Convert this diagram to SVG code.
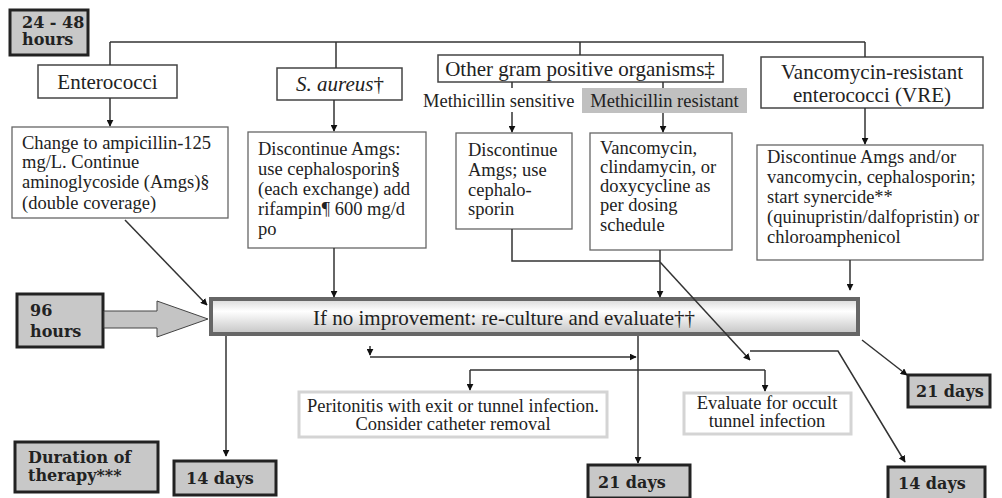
<svg xmlns="http://www.w3.org/2000/svg" width="1002" height="498" viewBox="0 0 1002 498">
<style>
.t{font-family:"Liberation Serif","Times New Roman",serif;font-size:18.5px;fill:#222}
.h{font-family:"Liberation Serif","Times New Roman",serif;font-size:21px;fill:#222}
.b{font-family:"DejaVu Serif",serif;font-weight:bold;font-size:16px;fill:#222}
.box{fill:#fff;stroke:#444;stroke-width:1.5}
.cbox{fill:#fff;stroke:#666;stroke-width:1.3}
.gbox{fill:#c8c8c8;stroke:#222;stroke-width:3}
.lbox{fill:#fff;stroke:#d4d4d4;stroke-width:3}
.c{fill:none;stroke:#333;stroke-width:1.5}
</style>
<defs>
<marker id="ah" viewBox="0 0 10 10" refX="9" refY="5" markerWidth="7" markerHeight="7" orient="auto" markerUnits="userSpaceOnUse">
<path d="M0,0 L10,5 L0,10 z" fill="#111"/>
</marker>
<linearGradient id="bar" x1="0" y1="0" x2="0" y2="1">
<stop offset="0" stop-color="#d8d8d8"/>
<stop offset="0.35" stop-color="#ffffff"/>
<stop offset="1" stop-color="#c4c4c4"/>
</linearGradient>
</defs>
<rect width="1002" height="498" fill="#fff"/>

<g id="n-24-48">
<rect class="gbox" x="10" y="10" width="78" height="45"/>
<text class="b" font-size="12" x="22" y="28">24 - 48</text>
<text class="b" font-size="12" x="22" y="45">hours</text>
</g>

<g id="n-enterococci">
<rect class="box" x="38" y="65" width="139" height="33"/>
<text class="h" x="107.5" y="89" text-anchor="middle">Enterococci</text>
</g>

<g id="n-saureus">
<rect class="box" x="277" y="68" width="125" height="32"/>
<text class="h" x="340" y="91" text-anchor="middle"><tspan font-style="italic">S. aureus</tspan>†</text>
</g>

<g id="n-other">
<rect class="box" x="438" y="55" width="285" height="27"/>
<text class="h" x="580" y="76" text-anchor="middle">Other gram positive organisms‡</text>
</g>

<g id="n-meth-sens">
<text class="t" font-size="17.5" x="423" y="107">Methicillin sensitive</text>
</g>

<g id="n-meth-res">
<rect x="582" y="88" width="165" height="25" fill="#c0c0c0"/>
<text class="t" font-size="17.5" x="664.5" y="107" text-anchor="middle">Methicillin resistant</text>
</g>

<g id="n-vre">
<rect class="box" x="761" y="57" width="222" height="51"/>
<text class="h" font-size="20" x="872" y="78.5" text-anchor="middle">Vancomycin-resistant</text>
<text class="h" font-size="20" x="872" y="101.5" text-anchor="middle">enterococci (VRE)</text>
</g>

<g id="n-change">
<rect class="cbox" x="12" y="127" width="216" height="91"/>
<text class="t" x="22" y="149">Change to ampicillin-125</text>
<text class="t" x="22" y="168">mg/L. Continue</text>
<text class="t" x="22" y="188">aminoglycoside (Amgs)§</text>
<text class="t" font-size="11" x="22" y="209">(double coverage)</text>
</g>

<g id="n-disc-ceph">
<rect class="cbox" x="248" y="132" width="178" height="116"/>
<text class="t" x="258" y="155">Discontinue Amgs:</text>
<text class="t" x="258" y="175">use cephalosporin§</text>
<text class="t" x="258" y="195">(each exchange) add</text>
<text class="t" x="258" y="215">rifampin¶ 600 mg/d</text>
<text class="t" x="258" y="235">po</text>
</g>

<g id="n-disc-amgs">
<rect class="cbox" x="456" y="133" width="116" height="96"/>
<text class="t" x="468" y="156">Discontinue</text>
<text class="t" x="468" y="176">Amgs; use</text>
<text class="t" x="468" y="196">cephalo-</text>
<text class="t" x="468" y="215">sporin</text>
</g>

<g id="n-vanco">
<rect class="cbox" x="590" y="133" width="142" height="117"/>
<text class="t" x="600" y="154">Vancomycin,</text>
<text class="t" x="600" y="173">clindamycin, or</text>
<text class="t" x="600" y="192">doxycycline as</text>
<text class="t" x="600" y="211">per dosing</text>
<text class="t" x="600" y="231">schedule</text>
</g>

<g id="n-vre-tx">
<rect class="cbox" x="757" y="145" width="226" height="115"/>
<text class="t" x="767" y="163">Discontinue Amgs and/or</text>
<text class="t" x="767" y="183">vancomycin, cephalosporin;</text>
<text class="t" x="767" y="203">start synercide**</text>
<text class="t" x="767" y="223">(quinupristin/dalfopristin) or</text>
<text class="t" x="767" y="243">chloroamphenicol</text>
</g>

<g id="n-96">
<rect class="gbox" x="17" y="294" width="86" height="53"/>
<text class="b" x="30" y="316">96</text>
<text class="b" x="30" y="337">hours</text>
</g>

<g id="n-bar">
<rect x="211" y="299" width="647" height="35" fill="url(#bar)" stroke="#666" stroke-width="4"/>
<text class="h" font-size="21.5" x="504" y="325" text-anchor="middle">If no improvement: re-culture and evaluate††</text>
</g>

<g id="n-peritonitis">
<rect class="lbox" x="299" y="392" width="308" height="45"/>
<text class="t" font-size="18" fill="#333" x="453" y="412" text-anchor="middle">Peritonitis with exit or tunnel infection.</text>
<text class="t" font-size="18" fill="#333" x="453" y="430" text-anchor="middle">Consider catheter removal</text>
</g>

<g id="n-occult">
<rect class="lbox" x="684" y="393" width="167" height="41"/>
<text class="t" font-size="18" x="767" y="409" text-anchor="middle" fill="#555">Evaluate for occult</text>
<text class="t" font-size="18" x="767" y="427" text-anchor="middle" fill="#555">tunnel infection</text>
</g>

<g id="n-duration">
<rect class="gbox" x="15" y="442" width="143" height="50"/>
<text class="b" x="28" y="463">Duration of</text>
<text class="b" x="28" y="481">therapy***</text>
</g>

<g id="n-14-left">
<rect class="gbox" x="174" y="461" width="102" height="34"/>
<text class="b" x="186" y="484">14 days</text>
</g>

<g id="n-21-mid">
<rect class="gbox" x="588" y="465" width="102" height="33"/>
<text class="b" x="598" y="488">21 days</text>
</g>

<g id="n-21-right">
<rect class="gbox" x="908" y="375" width="82" height="32"/>
<text class="b" x="916" y="397">21 days</text>
</g>

<g id="n-14-right">
<rect class="gbox" x="888" y="467" width="97" height="33"/>
<text class="b" x="898" y="489">14 days</text>
</g>

<g id="connectors">
<path class="c" d="M110,42 H865"/>
<path class="c" d="M110,42 V65"/>
<path class="c" d="M336,42 V68"/>
<path class="c" d="M580,42 V55"/>
<path class="c" d="M865,42 V57"/>
<path class="c" d="M110,98 V126" marker-end="url(#ah)"/>
<path class="c" d="M334,100 V131" marker-end="url(#ah)"/>
<path class="c" d="M512,82 V88"/>
<path class="c" d="M512,112 V132" marker-end="url(#ah)"/>
<path class="c" d="M663,82 V88"/>
<path class="c" d="M663,113 V132" marker-end="url(#ah)"/>
<path class="c" d="M865,108 V144" marker-end="url(#ah)"/>
<path class="c" d="M125,220 L207,305" marker-end="url(#ah)"/>
<path class="c" d="M334,248 V297" marker-end="url(#ah)"/>
<path class="c" d="M512,229 V261 H660"/>
<path class="c" d="M660,250 V297" marker-end="url(#ah)"/>
<path class="c" d="M850,260 V290" marker-end="url(#ah)"/>
<path class="c" d="M660,262 L750,360" marker-end="url(#ah)"/>
<path class="c" d="M750,351 H838 L905,462" marker-end="url(#ah)"/>
<path class="c" d="M862,340 L907,375" marker-end="url(#ah)"/>
<path class="c" d="M226,336 V456" marker-end="url(#ah)"/>
<path class="c" d="M638,336 V463" marker-end="url(#ah)"/>
<path class="c" d="M370,346 V355" marker-end="url(#ah)"/>
<path class="c" d="M370,357 H636" marker-end="url(#ah)"/>
<path class="c" d="M470,370 H765"/>
<path class="c" d="M470,370 V390" marker-end="url(#ah)"/>
<path class="c" d="M765,370 V391" marker-end="url(#ah)"/>
<path d="M104,311 H157 V301 L208,319 L157,337 V328 H104 z" fill="#c4c4c4" stroke="#444" stroke-width="1"/>
</g>
</svg>
